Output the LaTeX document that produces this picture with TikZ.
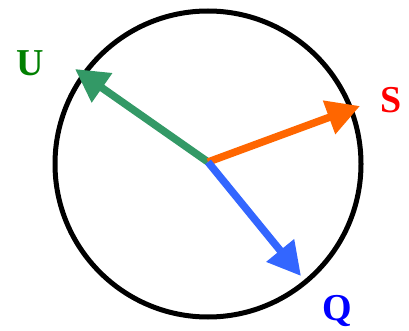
\documentclass[tikz,border=0pt]{standalone}
\usepackage{fontspec}
\setmainfont{Liberation Serif}
\usetikzlibrary{arrows.meta}
\definecolor{vecU}{HTML}{339966}
\definecolor{vecS}{HTML}{FF6600}
\definecolor{vecQ}{HTML}{3366FF}
\definecolor{labU}{HTML}{008000}
\definecolor{labS}{HTML}{FF0000}
\definecolor{labQ}{HTML}{0000FF}
\begin{document}
\begin{tikzpicture}[
    x=1pt, y=-1pt,
    ring/.style={draw=black, line width=5pt},
    vec/.style={-{Triangle[length=33pt, width=34pt]}, line width=7.5pt},
    lab/.style={font=\fontsize{38}{42}\selectfont\bfseries, inner sep=0pt},
]
    \useasboundingbox (0,0) rectangle (409,331);

    % Circle and centre
    \coordinate (o) at (208,162);
    \node[ring, circle, minimum size=306pt, inner sep=0pt] (ring) at (208,164) {};

    % Vector tips
    \coordinate (u) at (75,69);
    \coordinate (s) at (360,106);
    \coordinate (q) at (301,276);

    % Labels
    \node[lab, text=labU] (lu) at (30,63) {U};
    \node[lab, text=labS] (ls) at (391,100) {S};
    \node[lab, text=labQ] (lq) at (337,311) {Q};

    % Vectors
    \draw[vec, vecU] (o) -- (u);
    \draw[vec, vecS] (o) -- (s);
    \draw[vec, vecQ] (o) -- (q);
\end{tikzpicture}
\end{document}
